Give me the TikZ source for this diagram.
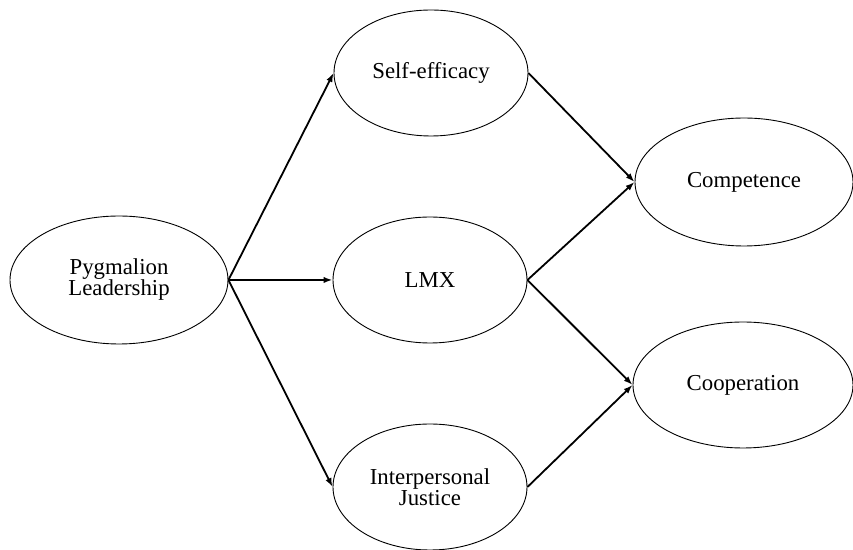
\documentclass[tikz,border=0pt]{standalone}
\usepackage{fontspec}
\setmainfont{Liberation Serif}
\usetikzlibrary{shapes.geometric,arrows.meta}
\begin{document}
\begin{tikzpicture}[x=0.5pt,y=-0.5pt,
  construct/.style={ellipse,draw,line width=0.45pt,inner sep=0pt,
    minimum width=#1,align=center,
    font=\fontsize{11.4}{10.5}\selectfont},
  construct/.default=109pt,
  path/.style={line width=0.9pt,-{Latex[length=4.5pt,width=3.2pt]}}]
\useasboundingbox (0,0) rectangle (853,550);
\node[construct=109pt,minimum height=64pt] (pyg) at (119,280) {Pygmalion\\Leadership};
\node[construct=97pt,minimum height=63pt] (se) at (431,73) {Self-efficacy};
\node[construct=97pt,minimum height=63pt] (lmx) at (430,280) {LMX};
\node[construct=97pt,minimum height=63pt] (ij) at (430,487) {Interpersonal\\Justice};
\node[construct=109pt,minimum height=64pt] (comp) at (744,182) {Competence};
\node[construct=110pt,minimum height=63pt] (coop) at (743,385) {Cooperation};
\draw[path] (pyg.east) -- (se.west);
\draw[path] (pyg.east) -- (lmx.west);
\draw[path] (pyg.east) -- (ij.west);
\draw[path] (se.east) -- (comp.west);
\draw[path] (lmx.east) -- (comp.west);
\draw[path] (lmx.east) -- (coop.west);
\draw[path] (ij.east) -- (coop.west);
\end{tikzpicture}
\end{document}
